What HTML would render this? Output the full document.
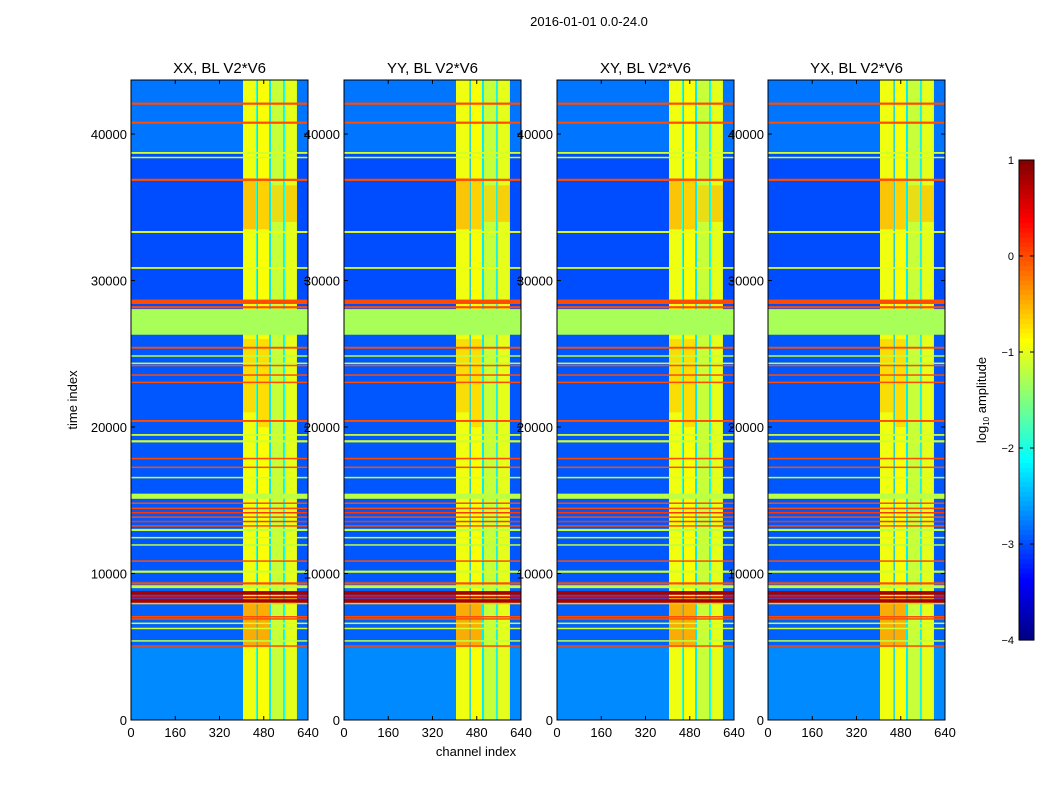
<!DOCTYPE html>
<html><head><meta charset="utf-8">
<style>
body{margin:0;background:#fff;}
svg text{font-family:"Liberation Sans",sans-serif;}
</style></head>
<body>
<svg id="fig" width="1050" height="800" xmlns="http://www.w3.org/2000/svg">
<rect width="1050" height="800" fill="#fff"/>
<text x="589" y="26" font-size="13" text-anchor="middle">2016-01-01 0.0-24.0</text>
<text x="476" y="756" font-size="13" text-anchor="middle">channel index</text>
<text transform="translate(77,400) rotate(-90)" font-size="13" text-anchor="middle">time index</text>
<g id="panels"></g>
<g id="cbar"></g>
</svg>
<script>
// ---- data ----
const panelTitles = ["XX, BL V2*V6","YY, BL V2*V6","XY, BL V2*V6","YX, BL V2*V6"];
const panelLefts = [131, 344, 557, 768];
const xTicks = [0,160,320,480,640];
const yTicks = [0,10000,20000,30000,40000];
const cbTicks = [1,0,-1,-2,-3,-4];
const bgValue = -3.0;
// background time regions [t0,t1,value]
const bgRegions = [[0,5000,-2.7],[5000,9500,-2.9],[9500,26300,-2.95],[28000,43690,-3.0],[38800,43690,-2.8]];
// column bands [ch0,ch1,value]
const colBands = [[405,452,-0.95],[452,458,-1.9],[459,499,-0.9],[499,506,-2.2],[506,550,-1.15],[550,557,-2.0],[557,600,-1.0]];
// orange patches in column bands [ch0,ch1,t0,t1,value]
const patches = [[405,452,33500,37000,-0.4],[459,499,33500,37000,-0.5],[506,550,34000,36500,-0.6],[557,600,34000,36500,-0.5],[405,452,21000,26000,-0.6],[459,499,20000,26000,-0.6],[405,499,5000,8000,-0.2]];
// row bands [t0,t1,value]
const rowBands = [
 [42000,42150,0.0],[40700,40850,0.0],[38650,38780,-1.1],[38350,38450,-1.1],[36800,36950,0.0],
 [33250,33380,-1.0],[30800,30920,-1.0],[28400,28700,0.0],[28100,28250,0.0],[26300,28050,-1.3],
 [25350,25480,0.0],[24800,24900,-1.2],[24300,24400,-1.2],[24150,24250,0.0],[23500,23600,0.0],[23000,23100,0.0],
 [20350,20480,0.0],[19400,19520,-1.1],[18950,19100,-1.1],[17800,17900,0.0],[17200,17300,0.0],[16500,16600,-1.1],
 [15100,15450,-1.2],[14750,14850,0.0],[14400,14500,0.0],[14100,14200,0.1],[13800,13900,0.0],[13500,13600,0.1],
 [13200,13300,0.0],[12900,13050,-1.2],[12400,12500,-1.1],[11900,12000,-1.2],[10800,10900,0.0],[10050,10200,-1.1],
 [9250,9400,0.0],[9000,9200,-1.2],[8550,8800,0.8],[8300,8450,0.5],[8000,8250,0.8],[7950,8000,-0.6],
 [7000,7100,0.0],[6850,6950,0.0],[6550,6650,-1.1],[6200,6300,-1.1],[5350,5450,-1.2],[5000,5100,0.0]
];
// ---- helpers ----
const NS="http://www.w3.org/2000/svg";
const PT=80, PB=720, PW=177, TMAX=43690;
function jet(v){let t=(v+4)/5;t=Math.max(0,Math.min(1,t));
 const c=x=>Math.round(255*Math.max(0,Math.min(1,1.5-Math.abs(4*t-x))));
 return `rgb(${c(3)},${c(2)},${c(1)})`;}
function yS(t){return PB-(t/TMAX)*(PB-PT);}
function mk(tag,attrs,parent){const e=document.createElementNS(NS,tag);for(const k in attrs)e.setAttribute(k,attrs[k]);parent.appendChild(e);return e;}
const root=document.getElementById('panels');
panelTitles.forEach((title,pi)=>{
 const L=panelLefts[pi];
 const xS=ch=>L+ch/640*PW;
 const g=mk('g',{},root);
 
 
 const bg=mk('rect',{x:L,y:PT,width:PW,height:PB-PT,fill:jet(bgValue)},g);
 
 
 bgRegions.forEach(r=>{const e=mk('rect',{x:L,y:yS(r[1]),width:PW,height:yS(r[0])-yS(r[1]),fill:jet(r[2])},g);
  
  });
 colBands.forEach(b=>{const e=mk('rect',{x:xS(b[0]),y:PT,width:xS(b[1])-xS(b[0]),height:PB-PT,fill:jet(b[2])},g);
  
  });
 patches.forEach(p=>{const e=mk('rect',{x:xS(p[0]),y:yS(p[3]),width:xS(p[1])-xS(p[0]),height:yS(p[2])-yS(p[3]),fill:jet(p[4]),opacity:0.6},g);
  
  });
 rowBands.forEach(b=>{const h=Math.max(1.5,yS(b[0])-yS(b[1]));const e=mk('rect',{x:L,y:yS(b[1]),width:PW,height:h,fill:jet(b[2])},g);
  
  });
 const fr=mk('rect',{x:L,y:PT,width:PW,height:PB-PT,fill:'none',stroke:'#000','stroke-width':1},g);
 
 
 const t=mk('text',{x:L+PW/2,y:73,'font-size':15,'text-anchor':'middle'},g);t.textContent=title;
 
 
 xTicks.forEach(v=>{const x=xS(v);mk('line',{x1:x,x2:x,y1:PB,y2:PB-4,stroke:'#000'},g);mk('line',{x1:x,x2:x,y1:PT,y2:PT+4,stroke:'#000'},g);
  const e=mk('text',{x:x,y:PB+17,'font-size':13,'text-anchor':'middle'},g);e.textContent=v;
  
  });
 yTicks.forEach(v=>{const y=yS(v);mk('line',{x1:L,x2:L+4,y1:y,y2:y,stroke:'#000'},g);mk('line',{x1:L+PW,x2:L+PW-4,y1:y,y2:y,stroke:'#000'},g);
  const e=mk('text',{x:L-4,y:y+5,'font-size':13,'text-anchor':'end'},g);e.textContent=v;
  
  });
});
// colorbar
const cb=document.getElementById('cbar');


const CT=160,CBt=640,CX=1019,CW=15;
const cyS=v=>CBt-(v+4)/5*(CBt-CT);
for(let i=0;i<100;i++){const v0=-4+i*0.05;mk('rect',{x:CX,y:cyS(v0+0.05),width:CW,height:(CBt-CT)/100+0.6,fill:jet(v0+0.025)},cb);}
mk('rect',{x:CX,y:CT,width:CW,height:CBt-CT,fill:'none',stroke:'#000'},cb);
cbTicks.forEach(v=>{const y=cyS(v);mk('line',{x1:CX,x2:CX+4,y1:y,y2:y,stroke:'#000'},cb);mk('line',{x1:CX+CW,x2:CX+CW-4,y1:y,y2:y,stroke:'#000'},cb);
 const e=mk('text',{x:CX-5,y:y+4,'font-size':11,'text-anchor':'end'},cb);e.textContent=v<0?'\u2212'+(-v):v;
 
 });
const cl=mk('text',{transform:'translate(986,400) rotate(-90)','font-size':13,'text-anchor':'middle'},cb);
cl.innerHTML='log<tspan font-size="8" dy="3">10</tspan><tspan dy="-3"> amplitude</tspan>';


</script>
</body></html>
